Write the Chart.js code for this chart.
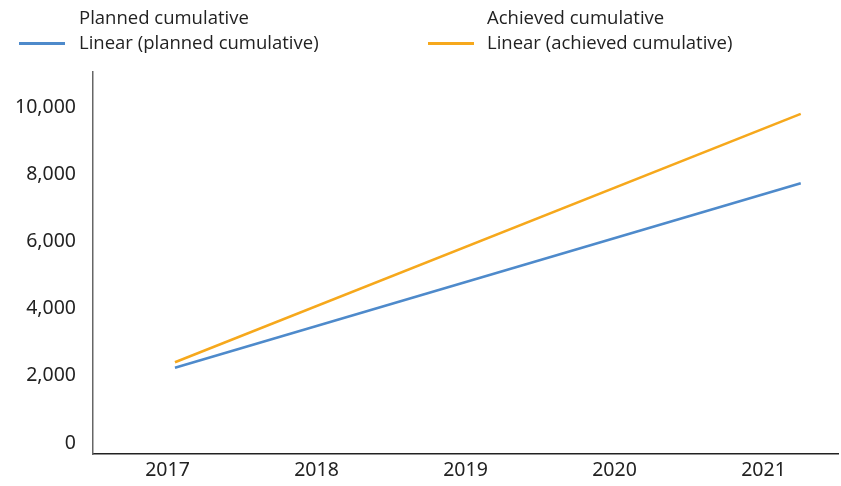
<!DOCTYPE html>
<html>
<head>
<meta charset="utf-8">
<script src="https://cdn.jsdelivr.net/npm/chart.js@4/dist/chart.umd.min.js"></script>
<style>
  body { margin: 0; background: #fff; }
  #wrap { position: relative; width: 841px; height: 486px; }
  .lg { position: absolute; font-family: "Open Sans", sans-serif; font-size: 18.5px; color: #222; white-space: nowrap; line-height: 20px; }
  .sw { position: absolute; height: 3px; }
</style>
</head>
<body>
<div id="wrap">
  <canvas id="c" width="841" height="486"></canvas>
  <div class="lg" style="left:79px; top:7px;">Planned cumulative</div>
  <div class="sw" style="left:19px; top:42px; width:46px; background:#4E8ACB;"></div>
  <div class="lg" style="left:79px; top:32px;">Linear (planned cumulative)</div>
  <div class="lg" style="left:487px; top:7px;">Achieved cumulative</div>
  <div class="sw" style="left:428px; top:42px; width:46px; background:#F6A81C;"></div>
  <div class="lg" style="left:487px; top:32px;">Linear (achieved cumulative)</div>
</div>
<script>
// year axis ticks
const years = [2017, 2018, 2019, 2020, 2021]
const yTicks = [0, 2000, 4000, 6000, 8000, 10000]

// trend lines (start / end of fitted line)
const trendX = [2017.05, 2021.25]
const plannedTrend = [2246, 7752]
const achievedTrend = [2407, 9821]

const toPoints = (ys) => trendX.map((x, i) => ({x: x, y: ys[i]}))

new Chart(document.getElementById('c'), {
    type: 'line',
    data: {
        datasets: [{
            label: 'Linear (achieved cumulative)',
            data: toPoints(achievedTrend),
            borderColor: '#F6A81C',
            borderWidth: 2.5,
            pointRadius: 0
        }, {
            label: 'Linear (planned cumulative)',
            data: toPoints(plannedTrend),
            borderColor: '#4E8ACB',
            borderWidth: 2.5,
            pointRadius: 0
        }]
    },
    options: {
        responsive: false,
        animation: false,
        layout: { padding: { top: 72, right: 3, left: 0, bottom: 0 } },
        plugins: { legend: { display: false }, tooltip: { enabled: false } },
        scales: {
            x: {
                type: 'linear',
                min: 2016.5,
                max: 2021.5,
                afterBuildTicks: axis => { axis.ticks = years.map(v => ({value: v})) },
                afterFit: axis => { axis.height = 32 },
                grid: { display: false, drawTicks: false },
                border: { color: '#222', width: 1.5 },
                ticks: {
                    padding: 5,
                    color: '#222',
                    font: { family: 'Noto Sans', size: 19.5 },
                    callback: v => String(v)
                }
            },
            y: {
                min: -330,
                max: 11070,
                afterBuildTicks: axis => { axis.ticks = yTicks.map(v => ({value: v})) },
                afterFit: axis => { axis.width = 93 },
                grid: { display: false, drawTicks: false },
                border: { color: '#666', width: 1.5 },
                ticks: {
                    padding: 17,
                    color: '#222',
                    font: { family: 'Noto Sans', size: 19.5 },
                    callback: v => v.toLocaleString('en-US')
                }
            }
        }
    }
})
</script>
</body>
</html>
